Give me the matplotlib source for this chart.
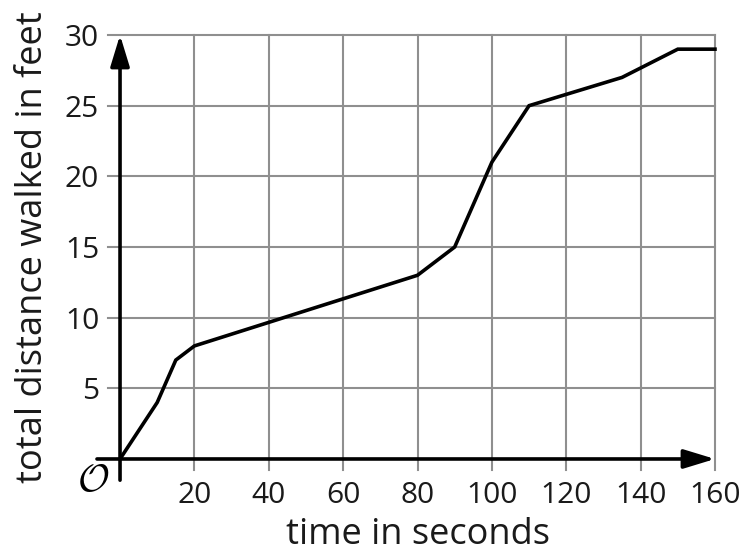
import matplotlib
matplotlib.use('Agg')
import matplotlib.pyplot as plt

plt.rcParams['font.family'] = ['Open Sans', 'DejaVu Sans']
plt.rcParams['mathtext.fontset'] = 'cm'

# data
time_s = [0, 10, 15, 20, 80, 90, 100, 110, 135, 150, 160]
distance_ft = [0, 4, 7, 8, 13, 15, 21, 25, 27, 29, 29]
x_ticks = [20, 40, 60, 80, 100, 120, 140, 160]
y_ticks = [5, 10, 15, 20, 25, 30]

fig = plt.figure(figsize=(7.53, 5.56), dpi=100)
ax = fig.add_axes([0.1594, 0.1745, 0.7901, 0.7625])
ax.set_xlim(0, 160)
ax.set_ylim(0, 30)
for s in ax.spines.values():
    s.set_visible(False)

grid_col = '#8f8f8f'
for x in x_ticks:
    ax.plot([x, x], [-0.78, 30], color=grid_col, lw=1.5, clip_on=False, zorder=1)
for y in y_ticks:
    ax.plot([-3.2, 160], [y, y], color=grid_col, lw=1.5, clip_on=False, zorder=1)

ax.set_xticks(x_ticks)
ax.set_yticks(y_ticks)
ax.tick_params(length=0, labelsize=21.5, colors='#1a1a1a')
ax.tick_params(axis='x', pad=16)
ax.tick_params(axis='y', pad=15)

# axes with arrows
arrow = dict(arrowstyle='-|>,head_length=1.9,head_width=0.58',
             color='black', lw=2.6, shrinkA=0, shrinkB=0)
ax.annotate('', xy=(160, 0), xytext=(-6.2, 0), arrowprops=arrow,
            annotation_clip=False, zorder=3)
ax.annotate('', xy=(0, 30), xytext=(0, -1.5), arrowprops=arrow,
            annotation_clip=False, zorder=3)

ax.plot(time_s, distance_ft, color='black', lw=2.6, zorder=4,
        solid_joinstyle='miter', clip_on=False)

ax.text(-7.2, -1.55, r'$\mathcal{O}$', fontsize=28, ha='center', va='center')

ax.set_xlabel('time in seconds', fontsize=26, labelpad=5, color='#1a1a1a')
ax.set_ylabel('total distance walked in feet', fontsize=26, labelpad=10,
              color='#1a1a1a')

fig.savefig('out.png', dpi=100, facecolor='white')
